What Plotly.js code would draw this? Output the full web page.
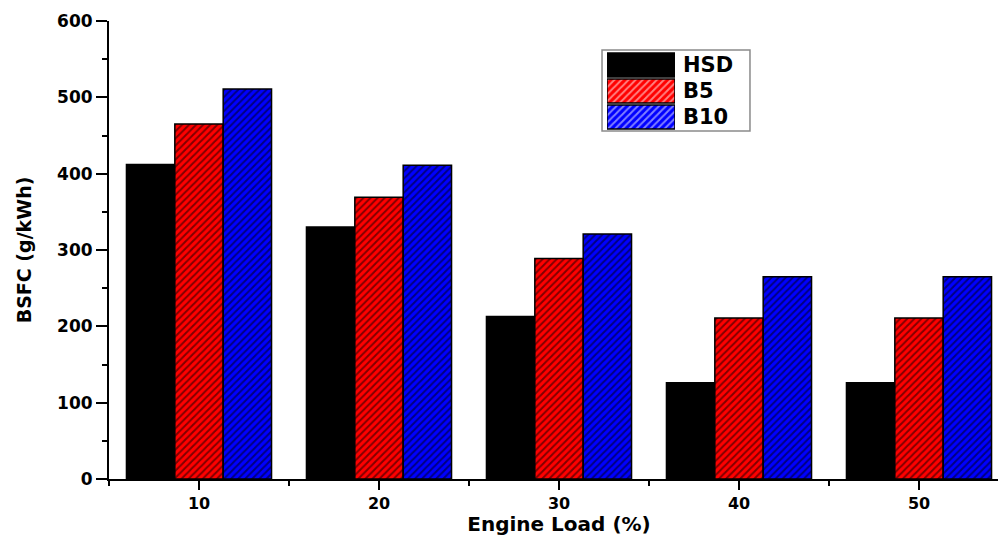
<!DOCTYPE html>
<html>
<head>
<meta charset="utf-8">
<script src="https://cdn.plot.ly/plotly-3.0.1.min.js"></script>
<style>
html,body{margin:0;padding:0;overflow:hidden;background:#fff;}
#chart{width:1014px;height:536px;}
</style>
</head>
<body>
<div id="chart"></div>
<script>
const loads = [10, 20, 30, 40, 50];
const hsd = [412, 330, 213, 126, 126];
const b5 = [465, 369, 289, 211, 211];
const b10 = [511, 411, 321, 265, 265];
const seriesNames = ['HSD', 'B5', 'B10'];
const seriesColors = ['#000000', '#ff0000', '#0000ff'];
const seriesPatterns = ['', '/', '/'];
const rightTicks = [120, 240, 360, 480];
const legendValues = [1, 1, 1];

const FONT = 'DejaVu Sans, Arial, sans-serif';
const seriesData = [hsd, b5, b10];

const traces = seriesData.map((vals, i) => ({
  type: 'bar',
  name: seriesNames[i],
  x: loads,
  y: vals,
  xaxis: 'x',
  yaxis: 'y',
  marker: {
    color: seriesColors[i],
    line: {color: '#000', width: 1.5},
    pattern: {shape: seriesPatterns[i], fgcolor: '#000', bgcolor: seriesColors[i], fillmode: 'overlay', size: 5, solidity: 0.4}
  },
  showlegend: false,
  hoverinfo: 'skip'
}));

// legend drawn as a small bar subplot
traces.push({
  type: 'bar',
  orientation: 'h',
  x: legendValues,
  y: seriesNames,
  xaxis: 'x3',
  yaxis: 'y3',
  width: 0.92,
  marker: {
    color: seriesColors,
    line: {color: '#000', width: 1.5},
    pattern: {shape: seriesPatterns, fgcolor: '#000', bgcolor: seriesColors, fillmode: 'overlay', size: 5, solidity: 0.4}
  },
  showlegend: false,
  hoverinfo: 'skip'
});

const tickFont = {family: FONT, size: 17, color: '#000', weight: 'bold'};

const layout = {
  width: 1014,
  height: 536,
  margin: {l: 109, r: 5, t: 21, b: 57},
  paper_bgcolor: '#fff',
  plot_bgcolor: '#fff',
  barmode: 'group',
  bargap: 0.194,
  bargroupgap: 0,
  showlegend: false,
  xaxis: {
    range: [5, 55],
    tickmode: 'linear', tick0: 10, dtick: 10,
    ticks: 'outside', ticklen: 9, tickwidth: 2, tickcolor: '#000',
    ticklabelstandoff: 0,
    minor: {ticks: 'outside', tick0: 5, dtick: 5, ticklen: 5, tickwidth: 2, tickcolor: '#000', showgrid: false},
    showline: true, linecolor: '#000', linewidth: 2,
    showgrid: false, zeroline: false,
    tickfont: {family: FONT, size: 16, color: '#000', weight: 'bold'},
    title: {text: 'Engine Load (%)', font: {family: FONT, size: 20, color: '#000', weight: 'bold'}, standoff: 12},
    automargin: false,
    fixedrange: true
  },
  yaxis: {
    range: [0, 600],
    tickmode: 'linear', tick0: 0, dtick: 100,
    ticks: 'outside', ticklen: 11, tickwidth: 2, tickcolor: '#000',
    minor: {ticks: 'outside', dtick: 50, ticklen: 5, tickwidth: 2, tickcolor: '#000', showgrid: false},
    showline: true, linecolor: '#000', linewidth: 2,
    showgrid: false, zeroline: false,
    tickfont: tickFont,
    title: {text: 'BSFC (g/kWh)', font: {family: FONT, size: 19, color: '#000', weight: 'bold'}, standoff: 20},
    automargin: false,
    fixedrange: true
  },
  xaxis2: {
    overlaying: 'x', side: 'top', anchor: 'y',
    range: [5, 55],
    tickmode: 'linear', tick0: 10, dtick: 10,
    ticks: 'inside', ticklen: 6, tickwidth: 2, tickcolor: '#000',
    showline: true, linecolor: '#000', linewidth: 2,
    showticklabels: false, showgrid: false, zeroline: false,
    fixedrange: true
  },
  yaxis2: {
    overlaying: 'y', side: 'right', anchor: 'x',
    range: [0, 600],
    tickmode: 'array', tickvals: rightTicks,
    ticks: 'inside', ticklen: 12, tickwidth: 1.5, tickcolor: '#000',
    showline: true, linecolor: '#000', linewidth: 2,
    showticklabels: false, showgrid: false, zeroline: false,
    fixedrange: true
  },
  xaxis3: {
    domain: [0.5533, 0.6289], anchor: 'y3',
    range: [0, 1], visible: false, fixedrange: true
  },
  yaxis3: {
    domain: [0.762, 0.9323], anchor: 'x3', side: 'right',
    type: 'category', categoryorder: 'array', categoryarray: seriesNames,
    autorange: 'reversed',
    showline: false, showgrid: false, zeroline: false, ticks: '',
    ticklabelstandoff: 7,
    tickfont: {family: FONT, size: 21, color: '#000', weight: 'bold'},
    fixedrange: true
  },
  shapes: [{
    type: 'rect', xref: 'paper', yref: 'paper',
    x0: 0.5478, x1: 0.7122, y0: 0.7598, y1: 0.9367,
    line: {color: '#8a8a8a', width: 1.5}, fillcolor: 'rgba(0,0,0,0)', layer: 'below'
  }]
};

Plotly.newPlot('chart', traces, layout, {displayModeBar: false, staticPlot: true});
</script>
</body>
</html>
